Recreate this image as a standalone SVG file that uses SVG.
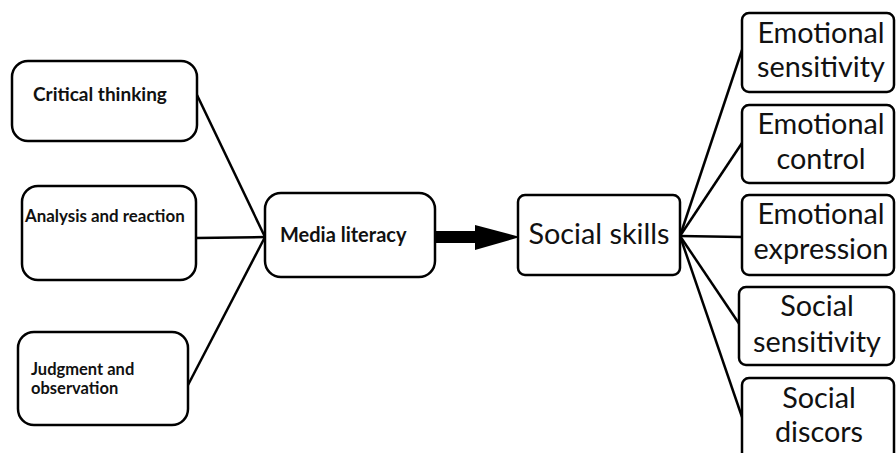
<svg xmlns="http://www.w3.org/2000/svg" width="896" height="453" viewBox="0 0 896 453">
<style>
.box{fill:#fff;stroke:#000;stroke-width:2.5}
.ln{stroke:#000;stroke-width:2.5;fill:none}
.s{font-family:Lato,"Open Sans",sans-serif;font-weight:bold;fill:#111}
.b{font-family:Lato,"Open Sans",sans-serif;fill:#111;font-size:28.8px;text-anchor:middle}
</style>
<rect width="896" height="453" fill="#fff"/>
<g id="connectors">
<line class="ln" x1="197" y1="95" x2="265" y2="237"/>
<line class="ln" x1="196" y1="238" x2="265" y2="237"/>
<line class="ln" x1="188" y1="385" x2="265" y2="237"/>
<rect x="435" y="231" width="42" height="12" fill="#000"/>
<polygon points="475,225 520,237 475,250" fill="#000"/>
<line class="ln" x1="680" y1="236" x2="742" y2="50"/>
<line class="ln" x1="680" y1="236" x2="742" y2="143"/>
<line class="ln" x1="680" y1="236" x2="742" y2="237"/>
<line class="ln" x1="680" y1="236" x2="740" y2="325"/>
<line class="ln" x1="680" y1="236" x2="742" y2="417"/>
</g>
<g id="critical-thinking">
<rect class="box" x="12" y="61" width="185" height="80" rx="16"/>
<text class="s" x="33" y="101" font-size="19">Critical thinking</text>
</g>
<g id="analysis-and-reaction">
<rect class="box" x="22" y="186" width="174" height="94" rx="16"/>
<text class="s" x="25" y="222" font-size="16.9">Analysis and reaction</text>
</g>
<g id="judgment-and-observation">
<rect class="box" x="18" y="332" width="170" height="93" rx="16"/>
<text class="s" x="31" y="375" font-size="16.5">Judgment and</text>
<text class="s" x="31" y="394" font-size="16.5">observation</text>
</g>
<g id="media-literacy">
<rect class="box" x="265" y="193" width="170" height="84" rx="16"/>
<text class="s" x="280" y="242" font-size="20">Media literacy</text>
</g>
<g id="social-skills">
<rect class="box" x="518" y="195" width="162" height="80" rx="7"/>
<text class="b" x="599" y="244" font-size="29.5">Social skills</text>
</g>
<g id="emotional-sensitivity">
<rect class="box" x="742" y="13" width="152" height="79" rx="7"/>
<text class="b" x="821" y="43">Emotional</text>
<text class="b" x="821" y="77">sensitivity</text>
</g>
<g id="emotional-control">
<rect class="box" x="742" y="105" width="152" height="78" rx="7"/>
<text class="b" x="821" y="134">Emotional</text>
<text class="b" x="821" y="169">control</text>
</g>
<g id="emotional-expression">
<rect class="box" x="742" y="195" width="152" height="80" rx="7"/>
<text class="b" x="821" y="224">Emotional</text>
<text class="b" x="821" y="259">expression</text>
</g>
<g id="social-sensitivity">
<rect class="box" x="739" y="287" width="155" height="78" rx="7"/>
<text class="b" x="817" y="316">Social</text>
<text class="b" x="817" y="352">sensitivity</text>
</g>
<g id="social-discors">
<rect class="box" x="742" y="378" width="152" height="90" rx="7"/>
<text class="b" x="819" y="408">Social</text>
<text class="b" x="819" y="442">discors</text>
</g>
</svg>
